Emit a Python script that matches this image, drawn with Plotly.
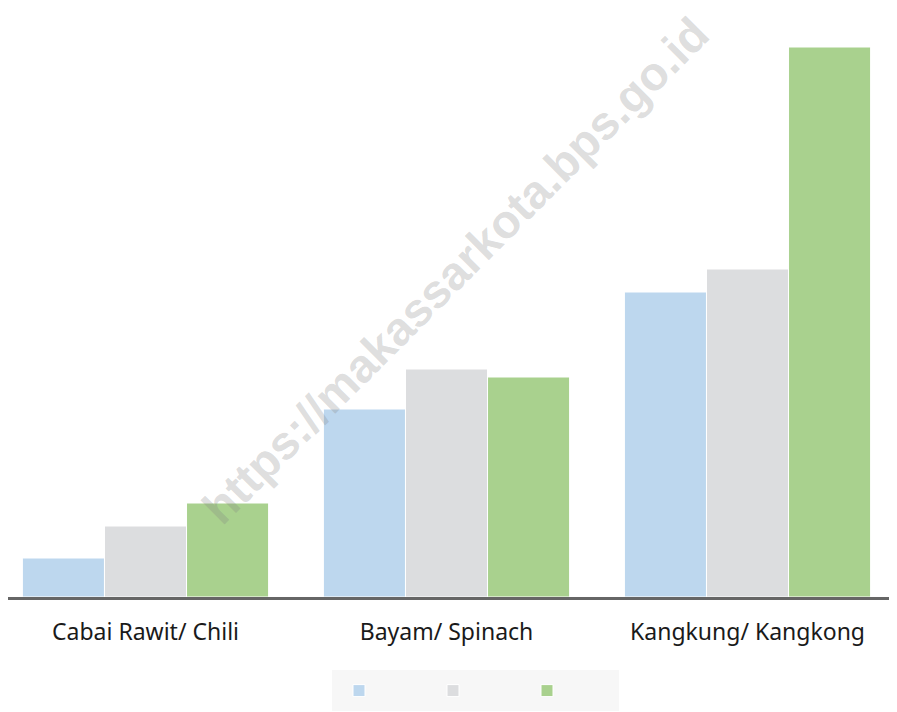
import plotly.graph_objects as go

categories = ["Cabai Rawit/ Chili", "Bayam/ Spinach", "Kangkung/ Kangkong"]
series_names = [" ", " ", " "]
series_a = [39, 188, 305]
series_b = [71, 228, 328]
series_c = [94, 220, 550]
colors = ["#bdd7ee", "#dcdddf", "#a9d18e"]

fig = go.Figure()
for name, vals, col in zip(series_names, [series_a, series_b, series_c], colors):
    fig.add_trace(go.Bar(
        x=categories, y=vals, name=name,
        marker=dict(color=col, line=dict(color="white", width=1)),
        hoverinfo="skip",
    ))

# page has an 8px body margin; figure sized to fit the window
OFF = 8
W, H = 897 - OFF, 712 - OFF
ML, MR, MT, MB = 0, 2, 12, 115
plot_w = W - ML - MR
plot_h = H - MT - MB


def px_x(p):
    return (p - OFF - ML) / plot_w


def px_y(p):
    return (H - MB - (p - OFF)) / plot_h


fig.update_layout(
    width=W, height=H,
    margin=dict(l=ML, r=MR, t=MT, b=MB, autoexpand=False),
    paper_bgcolor="white", plot_bgcolor="white",
    barmode="group", bargap=0.182, bargroupgap=0,
    showlegend=True,
    legend=dict(
        orientation="h",
        xref="container", yref="container",
        x=(359 - 20 - OFF) / W, xanchor="left",
        y=1 - (691 - OFF) / H, yanchor="middle",
        bgcolor="rgba(0,0,0,0)", borderwidth=0,
        entrywidth=49, entrywidthmode="pixels",
        font=dict(size=14),
        itemclick=False, itemdoubleclick=False,
    ),
    xaxis=dict(
        range=[-0.4568, 2.490],
        showline=True, linecolor="#666666", linewidth=3,
        showgrid=False, zeroline=False,
        ticks="", ticklabelstandoff=12,
        tickfont=dict(family="Noto Sans", size=23, color="#1a1a1a"),
    ),
    yaxis=dict(
        range=[0, 577], visible=False, showgrid=False, zeroline=False,
    ),
    shapes=[dict(
        type="rect", xref="paper", yref="paper",
        x0=px_x(332), x1=px_x(619), y0=px_y(711), y1=px_y(670),
        fillcolor="#f7f7f7", line=dict(width=0), layer="below",
    )],
    annotations=[dict(
        text="<b>https://makassarkota.bps.go.id</b>",
        x=px_x(455), y=px_y(270),
        xref="paper", yref="paper", showarrow=False,
        textangle=-45,
        font=dict(family="Liberation Sans", size=47, color="rgba(128,128,128,0.27)"),
    )],
)

fig.write_html("out.html")
